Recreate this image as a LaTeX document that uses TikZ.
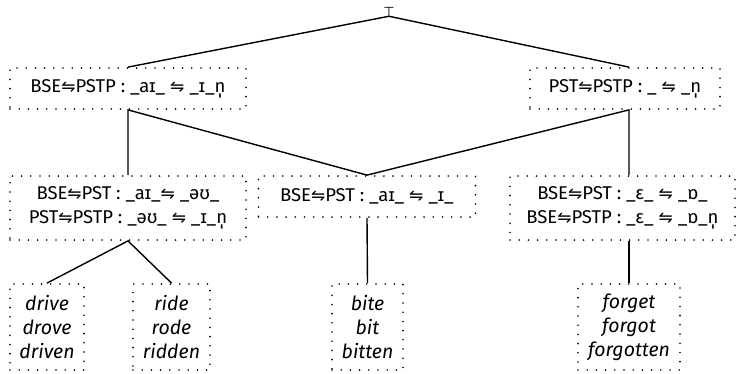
\documentclass[tikz,border=0pt]{standalone}
\usepackage{fontspec}
\setmainfont{Fira Sans}
\newfontfamily\symfont{DejaVu Sans}
\newcommand{\hp}{{\symfont\fontsize{17}{24}\selectfont ⇋}}
\begin{document}
\begin{tikzpicture}[x=1pt,y=-1pt,
  box/.style={draw, line width=1.8pt, dash pattern=on 0pt off 9.2pt, line cap=round,
    inner sep=0pt, align=center, font=\fontsize{18.5}{24}\selectfont},
  leaf/.style={box, minimum height=86pt, font=\fontsize{19.5}{24}\selectfont\itshape},
  conn/.style={line width=1.4pt}]
\useasboundingbox (0,0) rectangle (740,373);
\node[inner sep=0pt, font=\symfont\fontsize{13}{14}\selectfont] (root) at (389,11.5) {⊤};
\node[box, minimum width=236pt, minimum height=41pt] (L1) at (128,88.5) {BSE\hp PSTP : \_aɪ\_ \hp\ \_ɪ\_n̩};
\node[box, minimum width=190pt, minimum height=41pt] (R1) at (625,88.5) {PST\hp PSTP : \_ \hp\ \_n̩};
\node[box, minimum width=236pt, minimum height=64pt] (A) at (128,208) {BSE\hp PST : \_aɪ\_\hp\ \_əʊ\_\\PST\hp PSTP : \_əʊ\_ \hp\ \_ɪ\_n̩};
\node[box, minimum width=217pt, minimum height=41pt] (B) at (367,196.5) {BSE\hp PST : \_aɪ\_ \hp\ \_ɪ\_};
\node[box, minimum width=225pt, minimum height=64pt] (C) at (622.5,208) {BSE\hp PST : \_ɛ\_ \hp\ \_ɒ\_\\BSE\hp PSTP : \_ɛ\_ \hp\ \_ɒ\_n̩};
\node[leaf, minimum width=74pt] (d) at (47,327) {drive\\drove\\driven};
\node[leaf, minimum width=77pt] (r) at (171.5,327) {ride\\rode\\ridden};
\node[leaf, minimum width=71pt] (b) at (367.5,327) {bite\\bit\\bitten};
\node[leaf, minimum width=102pt] (f) at (629,327) {forget\\forgot\\forgotten};
\draw[conn] (L1.north) -- (root.south) -- (R1.north -| f.north);
\draw[conn] (A.north) -- (L1.south) -- (B.north);
\draw[conn] (B.north) -- (R1.south -| f.north) -- (C.north -| f.north);
\draw[conn] (d.north) -- (A.south) -- (r.north);
\draw[conn] (B.south) -- (b.north);
\draw[conn] (C.south -| f.north) -- (f.north);
\end{tikzpicture}
\end{document}
